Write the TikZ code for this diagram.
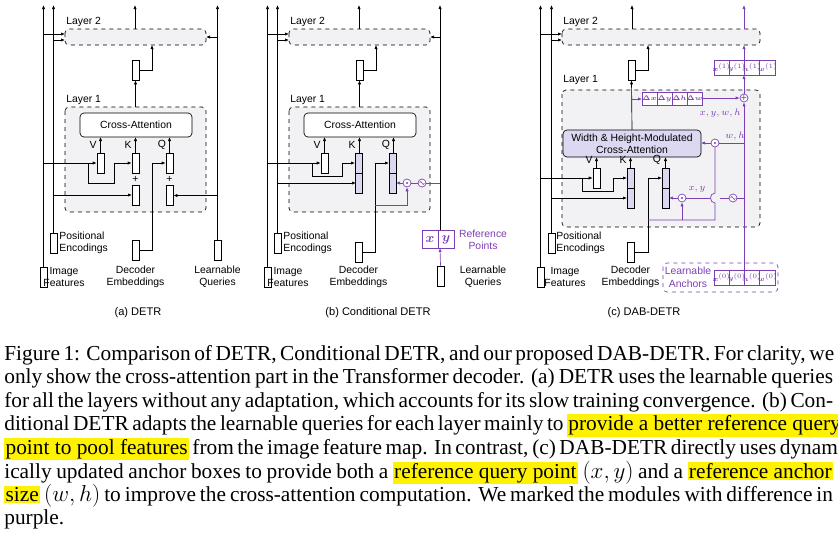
\documentclass[tikz,border=0pt]{standalone}
\usepackage{fontspec}
\usepackage{bm}
\setmainfont{Liberation Serif}
\newfontfamily\sff{Liberation Sans}
\usetikzlibrary{arrows.meta}
\definecolor{pur}{HTML}{7B3FB5}
\definecolor{lpur}{HTML}{DDD8F2}
\definecolor{lgray}{HTML}{F2F2F4}
\newcommand\capline[2]{\node[anchor=west,inner sep=0] at (4,#1) {\makebox[621.5pt][s]{#2}};}
\newcommand\hlt[1]{{\setlength\fboxsep{1pt}\colorbox{yellow}{#1}}}
\begin{document}
\begin{tikzpicture}[x=0.75pt,y=-0.75pt,
 ar/.style={-{Latex[length=3pt,width=2.4pt]}},
 bx/.style={draw,fill=white,line width=0.5pt,inner sep=0,minimum width=5.25pt,minimum height=15pt},
 tbx/.style={draw,fill=lpur,line width=0.5pt,inner sep=0,minimum width=5.25pt,minimum height=30pt},
 lay/.style={draw,dashed,rounded corners=3pt,fill=lgray,line width=0.5pt},
 lbl/.style={font=\sff\fontsize{7.8}{9.2}\selectfont,align=center,inner sep=0},
 circ/.style={draw=pur,circle,fill=white,inner sep=0,minimum size=6pt,line width=0.5pt},
 ml/.style={font=\fontsize{7.5}{8}\selectfont,text=pur,inner sep=0},
 cl/.style={font=\fontsize{5}{6}\selectfont,text=pur,inner sep=0},
 line width=0.5pt]
\useasboundingbox (0,0) rectangle (838,539);
% ---------- common parts of (a) and (b)
\foreach \s/\py in {0/195,224/183}{
\begin{scope}[xshift=\s*0.75pt]
\draw[lay] (65,29) rectangle (206,45); \node[lbl,anchor=south west] at (66,27) {Layer 2};
\draw[lay] (65,107) rectangle (206,212); \node[lbl,anchor=south west] at (66,105) {Layer 1};
\node[bx] (ifb) at (43.5,277) {};
\node[bx] (peb) at (53.5,243) {};
\draw[ar] (ifb.north) -- (43.5,5); \draw[ar] (peb.north) -- (53.5,5);
\draw[ar] (43.5,34) -- (65,34); \draw[ar] (53.5,40) -- (65,40);
\draw[ar] (135,29) -- (135,5);
\node[bx] (sb) at (135.5,70) {};
\draw[ar] (135.5,107) -- (sb.south); \draw[ar] (sb.east) -- (152,70) -- (152,45);
\draw[rounded corners=3pt,fill=white] (80,113) rectangle (192,137);
\node[lbl] at (136,125) {Cross-Attention};
\node[bx] (vb) at (100.5,163) {};
\node[lbl] at (93,145) {V}; \node[lbl] at (128,145) {K}; \node[lbl] at (162,145) {Q};
\draw[ar] (vb.north) -- (100.5,137);
\draw[ar] (135.5,153) -- (135.5,137); \draw[ar] (169.5,153) -- (169.5,137);
\draw[ar] (43.5,163) -- (vb.west);
\draw[ar] (53.5,\py) -- (132,\py);
\node[lbl,align=left,anchor=west] at (59,243) {Positional\\Encodings};
\node[lbl] at (64,277) {Image\\Features};
\end{scope}}
% ---------- (a)
\node[bx] (ka) at (135.5,163) {}; \node[bx] (qa) at (169.5,163) {};
\node[bx] (ka2) at (135.5,195.5) {}; \node[bx] (qa2) at (169.5,195.5) {};
\node[lbl] at (135.5,179) {+}; \node[lbl] at (169.5,179) {+};
\draw[ar] (88,163) -- (88,183) -- (114,183) -- (114,163) -- (ka.west);
\node[bx] (dea) at (135.5,250) {};
\draw[ar] (dea.east) -- (152,250) -- (152,163) -- (qa.west);
\node[bx] (lqa) at (217.5,250) {};
\draw[ar] (lqa.north) -- (217.5,5); \draw[ar] (217.5,37) -- (206,37);
\draw[ar] (217.5,195.5) -- (qa2.east);
\node[lbl] at (135.5,277) {Decoder\\Embeddings};
\node[lbl] at (217.5,277) {Learnable\\Queries};
\node[lbl,font=\sff\fontsize{8.3}{9}\selectfont] at (138,313) {(a) DETR};
% ---------- (b)
\node[tbx] (kb) at (358.5,173) {}; \draw (355,173) -- (362,173);
\node[tbx] (qb) at (392.5,173) {}; \draw (389,173) -- (396,173);
\draw[ar] (312,163) -- (312,176) -- (342,176) -- (342,163) -- (355,163);
\node[bx] (deb) at (358.5,252) {};
\draw[ar] (deb.east) -- (375,252) -- (375,163) -- (389,163);
\node[circ] (odb) at (407,183) {}; \fill[pur] (odb) circle (0.9pt);
\node[circ] (snb) at (422,183) {};
\draw[pur,line width=0.4pt] (419.5,183) sin (420.75,181.5) cos (422,183) sin (423.25,184.5) cos (424.5,183);
\draw[pur,ar] (375,205) -- (407,205) -- (odb.south);
\draw[pur] (440,183) -- (snb.east); \draw[pur] (snb.west) -- (odb.east);
\draw[pur,ar] (odb.west) -- (396,183);
\node[bx] (lqb) at (440.5,276) {};
\draw[pur] (422,230) rectangle (454,248); \draw[pur] (438,230) -- (438,248);
\node[ml,font=\fontsize{10}{10}\selectfont] at (430,239.5) {$\bm{x}$};
\node[ml,font=\fontsize{10}{10}\selectfont] at (446,239.5) {$\bm{y}$};
\draw[pur,ar] (lqb.north) -- (440,248);
\draw[ar] (440,230) -- (440,5); \draw[ar] (440,37) -- (430,37);
\node[lbl,text=pur] at (483,240) {Reference\\Points};
\node[lbl] at (358.5,277) {Decoder\\Embeddings};
\node[lbl] at (483,277) {Learnable\\Queries};
\node[lbl,font=\sff\fontsize{8.3}{9}\selectfont] at (378,313) {(b) Conditional DETR};
% ---------- (c)
\draw[lay] (562,29) rectangle (760,45); \node[lbl,anchor=south west] at (563,27) {Layer 2};
\draw[lay] (562,90) rectangle (760,227); \node[lbl,anchor=south west] at (563,85) {Layer 1};
\node[bx] (ifc) at (540.5,277) {}; \node[bx] (pec) at (551.5,243) {};
\draw[ar] (ifc.north) -- (540.5,5); \draw[ar] (pec.north) -- (551.5,5);
\draw[ar] (540.5,34) -- (562,34); \draw[ar] (551.5,40) -- (562,40);
\draw[ar] (632,29) -- (632,5);
\node[bx] (sbc) at (631.5,70) {};
\draw[ar] (632,130) -- (sbc.south); \draw[ar] (sbc.east) -- (648,70) -- (648,45);
\draw[rounded corners=3pt,fill=lpur] (563,130) rectangle (701,157);
\node[lbl] at (632,143.5) {Width \& Height-Modulated\\Cross-Attention};
\node[bx] (vc) at (596.5,178) {};
\node[tbx] (kc) at (630.5,188) {}; \draw (627,188) -- (634,188);
\node[tbx] (qc) at (665.5,188) {}; \draw (662,188) -- (669,188);
\node[lbl] at (589,160) {V}; \node[lbl] at (623,160) {K}; \node[lbl] at (657,160) {Q};
\draw[ar] (vc.north) -- (596.5,157); \draw[ar] (kc.north) -- (630.5,157); \draw[ar] (qc.north) -- (665.5,157);
\draw[ar] (540.5,178) -- (vc.west);
\draw[ar] (582,178) -- (582,191) -- (613,191) -- (613,178) -- (627,178);
\draw[ar] (551.5,198) -- (627,198);
\node[bx] (dec) at (630.5,252) {};
\draw[ar] (dec.east) -- (648,252) -- (648,178) -- (662,178);
% purple part (c)
\node[circ] (plc) at (744,98) {}; \node[lbl,text=pur] at (744,98.3) {+};
\node[circ] (od1) at (715,143) {}; \fill[pur] (od1) circle (0.9pt);
\node[circ] (od2) at (682,198) {}; \fill[pur] (od2) circle (0.9pt);
\node[circ] (snc) at (733,198) {};
\draw[pur,line width=0.4pt] (730.5,198) sin (731.75,196.5) cos (733,198) sin (734.25,199.5) cos (735.5,198);
\draw[pur,ar] (632,99) -- (642,99);
\foreach \i in {0,1,2,3}{
 \draw[pur,fill=white] (642+15*\i,92) rectangle (657+15*\i,105);
 \draw[pur,fill=white] (714+15.25*\i,60) rectangle (729.25+15.25*\i,75);
 \draw[pur,fill=white] (714+15.25*\i,270) rectangle (729.25+15.25*\i,285);}
\node[cl] at (649.5,98.5) {$\bm{\Delta x}$}; \node[cl] at (664.5,98.5) {$\bm{\Delta y}$};
\node[cl] at (679.5,98.5) {$\bm{\Delta h}$}; \node[cl] at (694.5,98.5) {$\bm{\Delta w}$};
\node[cl] at (721.6,67.5) {$\bm{x}^{(1)}$}; \node[cl] at (736.9,67.5) {$\bm{y}^{(1)}$};
\node[cl] at (752.1,67.5) {$\bm{h}^{(1)}$}; \node[cl] at (767.4,67.5) {$\bm{w}^{(1)}$};
\node[cl] at (721.6,277.5) {$\bm{x}^{(0)}$}; \node[cl] at (736.9,277.5) {$\bm{y}^{(0)}$};
\node[cl] at (752.1,277.5) {$\bm{h}^{(0)}$}; \node[cl] at (767.4,277.5) {$\bm{w}^{(0)}$};
\draw[pur,ar] (702,98) -- (plc.west);
\draw[pur,ar] (744,270) -- (plc.south);
\draw[pur,ar] (plc.north) -- (744,75);
\draw[pur,ar] (744,60) -- (744,45); \draw[pur,ar] (744,29) -- (744,5);
\node[ml,anchor=east] at (741,113) {$x, y, w, h$};
\draw[pur] (744,143) -- (od1.east); \draw[pur,ar] (od1.west) -- (701,143);
\node[ml] at (735,136) {$w, h$};
\draw[pur] (744,198) -- (snc.east); \draw[pur] (snc.west) -- (720,198);
\draw[pur] (710,198) -- (od2.east); \draw[pur,ar] (od2.west) -- (669,198);
\draw[pur] (od1.south) -- (715,193) .. controls (709,193) and (709,203) .. (715,203) -- (715,220) -- (648,220);
\draw[pur,ar] (682,220) -- (od2.south);
\node[ml] at (697,189) {$x, y$};
\draw[pur,dashed,rounded corners=3pt] (663,263) rectangle (778,292);
\node[lbl,text=pur,font=\sff\fontsize{7.8}{9.5}\selectfont] at (688,277.5) {Learnable\\Anchors};
\node[lbl,align=left,anchor=west] at (556,243) {Positional\\Encodings};
\node[lbl] at (565,277) {Image\\Features};
\node[lbl] at (630.5,277) {Decoder\\Embeddings};
\node[lbl,font=\sff\fontsize{8.3}{9}\selectfont] at (644,313) {(c) DAB-DETR};
% ---------- caption
\begin{scope}[font=\fontsize{16}{18}\selectfont]
\capline{355}{Figure 1: Comparison of DETR, Conditional DETR, and our proposed DAB-DETR. For clarity, we}
\capline{378.5}{only show the cross-attention part in the Transformer decoder. (a) DETR uses the learnable queries}
\capline{402}{for all the layers without any adaptation, which accounts for its slow training convergence. (b) Con-}
\capline{425.5}{ditional DETR adapts the learnable queries for each layer mainly to \hlt{provide a better reference query}}
\capline{449}{\hlt{point to pool features} from the image feature map. In contrast, (c) DAB-DETR directly uses dynam-}
\capline{472.5}{ically updated anchor boxes to provide both a \hlt{reference query point} $(x,y)$ and a \hlt{reference anchor}}
\capline{496}{\hlt{size} $(w,h)$ to improve the cross-attention computation. We marked the modules with difference in}
\node[anchor=west,inner sep=0] at (4,519.5) {purple.};
\end{scope}
\end{tikzpicture}
\end{document}
